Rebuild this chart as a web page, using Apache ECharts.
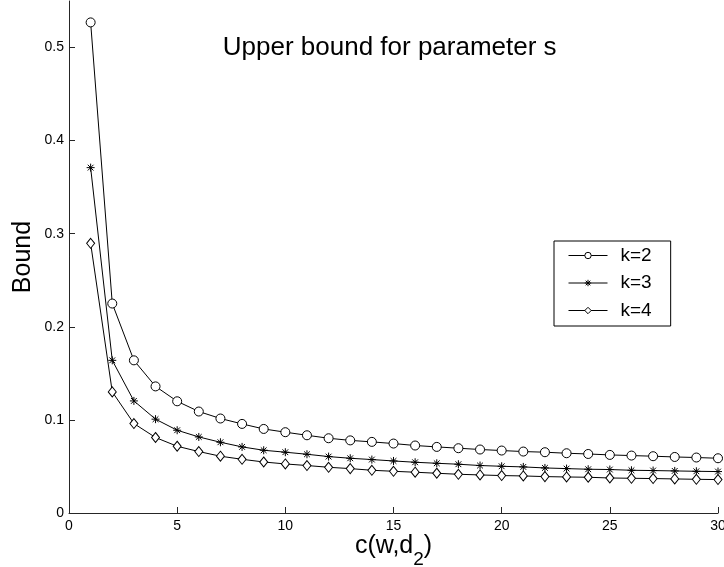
<!DOCTYPE html>
<html>
<head>
<meta charset="utf-8">
<script src="https://cdn.jsdelivr.net/npm/echarts@6/dist/echarts.min.js"></script>
<style>
  html, body { margin: 0; padding: 0; background: #fff; }
  #chart { width: 724px; height: 567px; }
</style>
</head>
<body>
<div id="chart"></div>
<script>
// c(w, d2) values along the horizontal axis
var cValues = [1, 2, 3, 4, 5, 6, 7, 8, 9, 10, 11, 12, 13, 14, 15,
               16, 17, 18, 19, 20, 21, 22, 23, 24, 25, 26, 27, 28, 29, 30];

// Upper bound of s for each k
var boundK2 = [0.527, 0.225, 0.164, 0.136, 0.120, 0.109, 0.1015, 0.0957, 0.0903, 0.0868,
               0.0835, 0.0803, 0.0780, 0.0764, 0.0746, 0.0725, 0.0710, 0.0696, 0.0682, 0.0671,
               0.0660, 0.0653, 0.0642, 0.0634, 0.0624, 0.0617, 0.0610, 0.0602, 0.0596, 0.0588];
var boundK3 = [0.371, 0.164, 0.1204, 0.1008, 0.0889, 0.0817, 0.0760, 0.0710, 0.0674, 0.0653,
               0.0631, 0.0606, 0.0588, 0.0574, 0.0559, 0.0545, 0.0534, 0.0524, 0.0510, 0.0502,
               0.0495, 0.0484, 0.0477, 0.0470, 0.0467, 0.0459, 0.0456, 0.0452, 0.0448, 0.0445];
var boundK4 = [0.2897, 0.1301, 0.0961, 0.0811, 0.0717, 0.0660, 0.0610, 0.0577, 0.0548, 0.0527,
               0.0510, 0.0491, 0.0477, 0.0459, 0.0448, 0.0438, 0.0427, 0.0416, 0.0409, 0.0402,
               0.0398, 0.0391, 0.0387, 0.0384, 0.0376, 0.0373, 0.0370, 0.0366, 0.0362, 0.0359];

var seriesNames = ['k=2', 'k=3', 'k=4'];
var xTicks = [0, 5, 10, 15, 20, 25, 30];
var yTicks = [0, 0.1, 0.2, 0.3, 0.4, 0.5];

var FONT = '"Liberation Sans", Arial, Helvetica, sans-serif';
var AXIS_COLOR = '#262626';

function pairs(ys) {
  return cValues.map(function (x, i) { return [x, ys[i]]; });
}

var asterisk = 'path://M0,-1L0,1M-1,0L1,0M-0.72,-0.72L0.72,0.72M-0.72,0.72L0.72,-0.72';

function lineSeries(name, ys, symbol, size) {
  return {
    name: name,
    type: 'line',
    data: pairs(ys),
    symbol: symbol,
    symbolSize: size,
    showAllSymbol: true,
    lineStyle: { color: '#000', width: 1 },
    itemStyle: { color: '#fff', borderColor: '#000', borderWidth: 1 },
    emphasis: { disabled: true },
    animation: false
  };
}

var chart = echarts.init(document.getElementById('chart'), null, { renderer: 'canvas' });

chart.setOption({
  backgroundColor: '#fff',
  animation: false,
  textStyle: { fontFamily: FONT },
  grid: { left: 69, right: 6, top: 1, bottom: 54, outerBoundsMode: 'none', containLabel: false },
  graphic: [{
    type: 'text',
    x: 389.7,
    y: 47.5,
    style: {
      text: 'Upper bound for parameter s',
      fontSize: 26,
      fontFamily: FONT,
      fill: '#000',
      textAlign: 'center',
      textVerticalAlign: 'middle'
    }
  }],
  legend: {
    orient: 'vertical',
    left: 554,
    top: 241,
    data: seriesNames,
    padding: [5, 19, 6, 14],
    itemWidth: 39,
    itemHeight: 8,
    itemGap: 8.5,
    borderColor: '#000',
    borderWidth: 1,
    backgroundColor: '#fff',
    selectedMode: false,
    lineStyle: { width: 1, color: '#000' },
    itemStyle: { color: '#fff', borderColor: '#000', borderWidth: 1 },
    textStyle: { fontSize: 19, color: '#000', fontFamily: FONT, padding: [0, 0, 0, 8] }
  },
  xAxis: {
    type: 'value',
    min: 0,
    max: 30,
    interval: 5,
    name: 'c(w,d{sub|2})',
    nameLocation: 'middle',
    nameGap: 18,
    nameMoveOverlap: false,
    nameTextStyle: {
      fontSize: 25,
      color: '#000',
      fontFamily: FONT,
      lineHeight: 30,
      rich: {
        sub: { fontSize: 19, fontFamily: FONT, color: '#000', lineHeight: 30, padding: [19, 0, 0, 0], verticalAlign: 'top' }
      }
    },
    axisLine: { show: true, lineStyle: { color: AXIS_COLOR, width: 1 } },
    axisTick: { show: true, inside: true, length: 6, lineStyle: { color: AXIS_COLOR }, customValues: xTicks },
    axisLabel: { fontSize: 14, color: '#000', margin: 6, fontFamily: FONT, customValues: xTicks },
    splitLine: { show: false }
  },
  yAxis: {
    type: 'value',
    min: 0,
    max: 0.55,
    interval: 0.1,
    name: 'Bound',
    nameLocation: 'middle',
    nameGap: 33,
    nameMoveOverlap: false,
    nameTextStyle: { fontSize: 25, color: '#000', fontFamily: FONT },
    axisLine: { show: true, lineStyle: { color: AXIS_COLOR, width: 1 } },
    axisTick: { show: true, inside: true, length: 6, lineStyle: { color: AXIS_COLOR }, customValues: yTicks },
    axisLabel: { fontSize: 14, color: '#000', margin: 5, fontFamily: FONT, customValues: yTicks },
    splitLine: { show: false }
  },
  series: [
    lineSeries(seriesNames[0], boundK2, 'circle', 9),
    lineSeries(seriesNames[1], boundK3, asterisk, 8),
    lineSeries(seriesNames[2], boundK4, 'diamond', [8, 10])
  ]
});
</script>
</body>
</html>
